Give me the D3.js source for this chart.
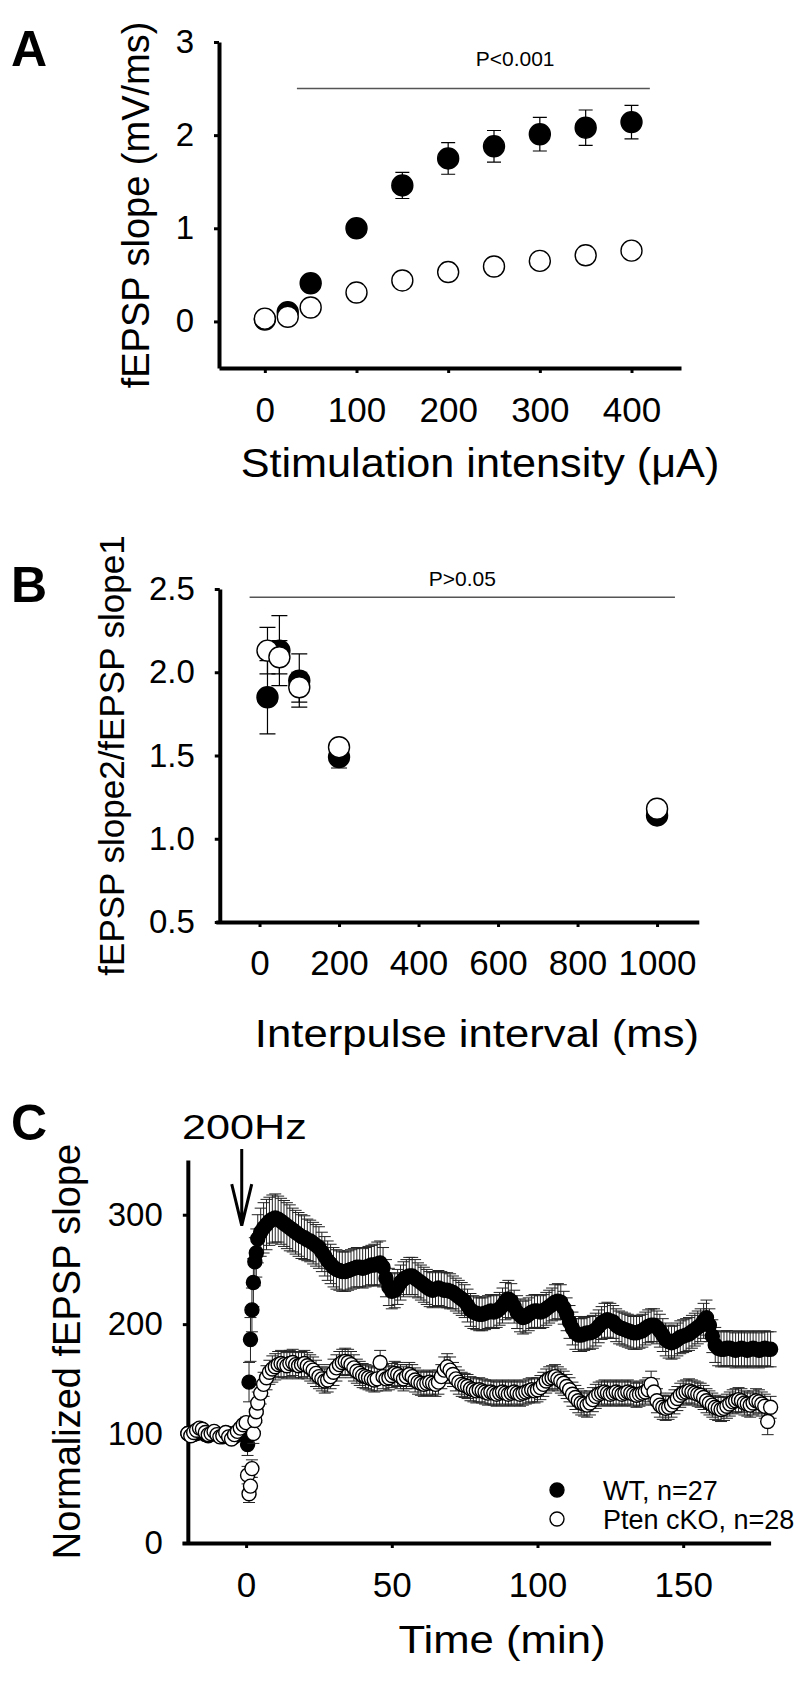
<!DOCTYPE html>
<html>
<head>
<meta charset="utf-8">
<script src="https://cdn.jsdelivr.net/npm/d3@7"></script>
<style>
  body { margin: 0; background: #fff; }
  svg text { font-family: "Liberation Sans", Arial, sans-serif; fill: #000; }
</style>
</head>
<body>
<svg width="800" height="1703"></svg>
<script>
'use strict'

// ---- Panel A: input/output ----
const intensityA = [0, 25, 50, 100, 150, 200, 250, 300, 350, 400];
const wtA     = [0.02, 0.10, 0.41, 1.00, 1.46, 1.75, 1.88, 2.01, 2.08, 2.14];
const wtAErr  = [0.01, 0.03, 0.04, 0.06, 0.14, 0.17, 0.17, 0.18, 0.19, 0.18];
const koA     = [0.03, 0.05, 0.15, 0.31, 0.44, 0.53, 0.59, 0.65, 0.71, 0.76];
const koAErr  = [0.01, 0.01, 0.02, 0.03, 0.04, 0.05, 0.05, 0.05, 0.06, 0.06];
const ticksAx = [0, 100, 200, 300, 400];
const ticksAy = [0, 1, 2, 3];

// ---- Panel B: paired pulse ----
const intervalB = [20, 50, 100, 200, 1000];
const wtB     = [1.85, 2.13, 1.95, 1.49, 1.14];
const wtBErr  = [0.22, 0.21, 0.16, 0.065, 0.03];
const koB     = [2.13, 2.09, 1.91, 1.55, 1.18];
const koBErr  = [0.14, 0.10, 0.09, 0.03, 0.03];
const ticksBx = [0, 200, 400, 600, 800, 1000];
const ticksBy = [0.5, 1.0, 1.5, 2.0, 2.5];

// ---- Panel C: LTP time course ----
const timeC = [
  -20, -19, -18, -17, -16, -15, -14, -13, -12, -11, -10, -9, -8, -7, -6, -5, -4, -3, -2, -1,
  0, 0.5, 1, 1.5, 2, 2.5, 3, 3.5,
  4, 5, 6, 7, 8, 9, 10, 11, 12, 13,
  14, 15, 16, 17, 18, 19, 20, 21, 22, 23,
  24, 25, 26, 27, 28, 29, 30, 31, 32, 33,
  34, 35, 36, 37, 38, 39, 40, 41, 42, 43,
  44, 45, 46, 47, 48, 49, 50, 51, 52, 53,
  54, 55, 56, 57, 58, 59, 60, 61, 62, 63,
  64, 65, 66, 67, 68, 69, 70, 71, 72, 73,
  74, 75, 76, 77, 78, 79, 80, 81, 82, 83,
  84, 85, 86, 87, 88, 89, 90, 91, 92, 93,
  94, 95, 96, 97, 98, 99, 100, 101, 102, 103,
  104, 105, 106, 107, 108, 109, 110, 111, 112, 113,
  114, 115, 116, 117, 118, 119, 120, 121, 122, 123,
  124, 125, 126, 127, 128, 129, 130, 131, 132, 133,
  134, 135, 136, 137, 138, 139, 140, 141, 142, 143,
  144, 145, 146, 147, 148, 149, 150, 151, 152, 153,
  154, 155, 156, 157, 158, 159, 160, 161, 162, 163,
  164, 165, 166, 167, 168, 169, 170, 171, 172, 173,
  174, 175, 176, 177, 178, 179, 180
];
const wtC = [
  100, 101, 99, 100, 102, 101, 99, 98, 100, 101, 99, 98, 97, 99, 100, 98, 97, 99, 101, 100,
  98, 90, 147, 186, 213, 238, 257, 265,
  278, 284, 288, 291, 294, 296, 297, 296, 294, 292,
  290, 288, 286, 284, 282, 280, 279, 277, 276, 274,
  272, 270, 266, 262, 258, 255, 252, 250, 249, 248,
  248, 249, 250, 251, 252, 252, 251, 252, 253, 254,
  254, 255, 256, 252, 242, 234, 230, 231, 234, 238,
  241, 243, 244, 244, 242, 240, 238, 236, 234, 232,
  231, 232, 233, 232, 231, 231, 230, 229, 227, 225,
  223, 221, 217, 213, 211, 210, 209, 209, 210, 211,
  212, 211, 212, 214, 217, 221, 223, 221, 216, 211,
  208, 206, 207, 209, 211, 212, 212, 211, 212, 214,
  216, 218, 220, 221, 220, 215, 209, 202, 196, 192,
  190, 190, 191, 192, 192, 193, 195, 198, 201, 203,
  204, 203, 202, 199, 197, 196, 195, 194, 193, 192,
  192, 193, 194, 196, 198, 199, 199, 197, 194, 190,
  186, 184, 183, 184, 186, 188, 189, 190, 191, 193,
  195, 197, 199, 203, 206, 199, 189, 181, 178, 177,
  177, 178, 178, 177, 176, 177, 178, 177, 176, 177,
  178, 177, 176, 177, 178, 177, 177
];
const wtCErr = [
  4, 4, 4, 4, 4, 4, 4, 4, 4, 4, 4, 4, 4, 4, 4, 4, 4, 4, 4, 4,
  5, 10, 18, 20, 20, 22, 22, 22,
  22, 22, 23, 23, 22, 22, 22, 21, 21, 21,
  21, 21, 20, 20, 20, 20, 20, 19, 19, 19,
  19, 19, 18, 18, 18, 18, 18, 18, 18, 18,
  18, 18, 18, 18, 18, 18, 18, 18, 18, 18,
  19, 20, 20, 18, 17, 17, 16, 16, 16, 16,
  16, 16, 17, 17, 17, 16, 16, 16, 16, 16,
  16, 16, 16, 16, 16, 16, 16, 15, 15, 15,
  15, 15, 15, 15, 15, 15, 15, 15, 15, 15,
  15, 15, 15, 15, 16, 17, 17, 16, 15, 15,
  15, 15, 15, 15, 15, 15, 15, 15, 15, 15,
  15, 15, 16, 16, 16, 15, 15, 15, 15, 15,
  15, 15, 15, 15, 15, 15, 15, 15, 15, 16,
  16, 16, 15, 15, 15, 15, 15, 15, 15, 15,
  15, 15, 15, 15, 15, 15, 15, 15, 15, 15,
  15, 15, 15, 15, 15, 15, 15, 15, 15, 15,
  15, 15, 15, 16, 16, 15, 15, 16, 16, 16,
  16, 16, 16, 16, 16, 16, 16, 16, 16, 16,
  16, 16, 16, 16, 16, 16, 16
];
const koC = [
  100, 98, 101, 103, 105, 104, 101, 99, 100, 102, 99, 97, 98, 101, 97, 95, 99, 102, 105, 108,
  110, 62, 45, 52, 68, 100, 112, 120,
  128, 137, 145, 151, 156, 159, 161, 163, 164, 163,
  162, 164, 165, 163, 162, 163, 164, 162, 160, 158,
  155, 152, 150, 148, 149, 152, 156, 160, 163, 165,
  166, 165, 163, 160, 157, 155, 153, 152, 151, 150,
  149, 150, 165, 152, 150, 151, 153, 155, 154, 152,
  150, 152, 154, 152, 149, 147, 146, 145, 146, 147,
  146, 145, 147, 152, 158, 161, 158, 154, 150, 147,
  145, 144, 143, 141, 140, 139, 140, 139, 138, 137,
  138, 137, 136, 137, 138, 137, 136, 137, 138, 137,
  136, 137, 138, 139, 140, 139, 140, 142, 145, 148,
  150, 151, 152, 150, 148, 146, 143, 140, 136, 133,
  130, 128, 127, 126, 128, 131, 134, 136, 137, 138,
  137, 136, 137, 138, 137, 136, 137, 138, 137, 136,
  135, 136, 137, 138, 140, 145, 138, 130, 126, 124,
  123, 124, 126, 129, 132, 135, 137, 138, 139, 138,
  137, 136, 135, 133, 130, 128, 126, 124, 123, 122,
  123, 125, 127, 129, 130, 131, 130, 128, 127, 126,
  128, 130, 129, 127, 125, 111, 124
];
const koCErr = [
  4, 4, 4, 4, 4, 4, 4, 4, 4, 4, 4, 4, 4, 4, 4, 4, 4, 4, 4, 4,
  5, 8, 8, 8, 8, 9, 10, 10,
  10, 10, 11, 11, 11, 12, 12, 12, 12, 12,
  12, 12, 12, 12, 12, 12, 12, 12, 12, 12,
  12, 11, 11, 11, 11, 11, 12, 12, 12, 12,
  12, 12, 12, 12, 11, 11, 11, 11, 11, 11,
  11, 11, 11, 11, 11, 11, 11, 11, 11, 11,
  11, 11, 11, 11, 11, 11, 11, 11, 11, 11,
  11, 11, 11, 11, 12, 12, 12, 11, 11, 11,
  11, 11, 11, 11, 11, 11, 11, 11, 11, 11,
  11, 11, 11, 11, 11, 11, 11, 11, 11, 11,
  11, 11, 11, 11, 11, 11, 11, 11, 11, 11,
  11, 11, 11, 11, 11, 11, 11, 11, 11, 11,
  11, 11, 11, 11, 11, 11, 11, 11, 11, 11,
  11, 11, 11, 11, 11, 11, 11, 11, 11, 11,
  11, 11, 11, 11, 11, 12, 12, 11, 11, 11,
  11, 11, 11, 11, 11, 11, 11, 11, 11, 11,
  11, 11, 11, 11, 11, 11, 11, 11, 11, 11,
  11, 11, 11, 11, 11, 11, 11, 11, 11, 11,
  11, 11, 11, 11, 11, 12, 10
];
const ticksCx = [0, 50, 100, 150];
const ticksCy = [0, 100, 200, 300];
const legendC = ['WT, n=27', 'Pten cKO, n=28'];

const svg = d3.select('svg');
const FONT = '"Liberation Sans", Arial, sans-serif';

// text helper, sx stretches glyphs horizontally a bit like the original
function txt(g, s, x, y, o = {}) {
  let tr = `translate(${x},${y})`;
  if (o.rot) tr += ` rotate(${o.rot})`;
  if (o.sx) tr += ` scale(${o.sx},1)`;
  return g.append('text')
    .attr('transform', tr)
    .attr('text-anchor', o.anchor || 'start')
    .style('font-size', (o.size || 30) + 'px')
    .style('font-weight', o.bold ? 'bold' : 'normal')
    .text(s);
}

function styleAxis(sel, size) {
  sel.attr('font-family', FONT).attr('font-size', null);
  sel.select('.domain').attr('stroke-width', 4);
  sel.selectAll('.tick line').attr('stroke-width', 3);
  sel.selectAll('.tick text').style('font-size', size + 'px');
}

function pts(xs, vs, es) {
  return xs.map((x, i) => ({ x: x, v: vs[i], e: es[i] }));
}

function errBars(g, data, x, y, cap, color, w) {
  g.append('g').attr('stroke', color).attr('stroke-width', w).attr('fill', 'none')
    .selectAll('path').data(data).join('path')
    .attr('d', d => {
      const cx = x(d.x), y1 = y(d.v + d.e), y2 = y(d.v - d.e);
      return `M${cx},${y1}V${y2}M${cx - cap},${y1}H${cx + cap}M${cx - cap},${y2}H${cx + cap}`;
    });
}

function dots(g, data, x, y, r, filled) {
  g.append('g').selectAll('circle').data(data).join('circle')
    .attr('cx', d => x(d.x))
    .attr('cy', d => y(d.v))
    .attr('r', r)
    .attr('fill', filled ? '#000' : '#fff')
    .attr('stroke', '#000')
    .attr('stroke-width', 1.4);
}

// ================= A =================
{
  const g = svg.append('g');
  const x = d3.scaleLinear().domain([-50, 454]).range([219, 681]);
  const y = d3.scaleLinear().domain([-0.5, 3]).range([368, 42]);

  g.append('g').attr('transform', `translate(0,${y(-0.5)})`)
    .call(d3.axisBottom(x).tickValues(ticksAx).tickSizeInner(5).tickSizeOuter(0).tickPadding(24))
    .call(styleAxis, 35);
  g.append('g').attr('transform', `translate(${x(-50)},0)`)
    .call(d3.axisLeft(y).tickValues(ticksAy).tickFormat(d3.format('d')).tickSizeInner(5).tickSizeOuter(0).tickPadding(20))
    .call(styleAxis, 33);

  const wt = pts(intensityA, wtA, wtAErr);
  const ko = pts(intensityA, koA, koAErr);
  errBars(g, wt, x, y, 7, '#000', 1.2);
  dots(g, wt, x, y, 10.5, true);
  errBars(g, ko, x, y, 7, '#000', 1.2);
  dots(g, ko, x, y, 10.5, false);

  // significance bar
  g.append('line').attr('x1', x(35)).attr('x2', x(420)).attr('y1', y(2.5)).attr('y2', y(2.5))
    .attr('stroke', '#555').attr('stroke-width', 1.5);
  txt(g, 'P<0.001', x(273), y(2.74), { size: 21, anchor: 'middle' });

  txt(g, 'A', 11, 66, { size: 50, bold: true });
  txt(g, 'fEPSP slope (mV/ms)', 149, (y(-0.5) + y(3)) / 2, { size: 38, anchor: 'middle', rot: -90 });
  txt(g, 'Stimulation intensity (\u03bcA)', 480, 477, { size: 40, anchor: 'middle', sx: 1.08 });
}

// ================= B =================
{
  const g = svg.append('g');
  const x = d3.scaleLinear().domain([-110, 1105]).range([215.8, 698.8]);
  const y = d3.scaleLinear().domain([0.5, 2.5]).range([922, 589]);

  g.append('g').attr('transform', `translate(0,${y(0.5)})`)
    .call(d3.axisBottom(x).tickValues(ticksBx).tickFormat(d3.format('d')).tickSizeInner(5).tickSizeOuter(0).tickPadding(23))
    .call(styleAxis, 35);
  g.append('g').attr('transform', `translate(${x(-100)},0)`)
    .call(d3.axisLeft(y).tickValues(ticksBy).tickFormat(d3.format('.1f')).tickSizeInner(5).tickSizeOuter(0).tickPadding(20))
    .call(styleAxis, 33);

  const wt = pts(intervalB, wtB, wtBErr);
  const ko = pts(intervalB, koB, koBErr);
  errBars(g, wt, x, y, 8, '#000', 1.2);
  dots(g, wt, x, y, 10.5, true);
  errBars(g, ko, x, y, 8, '#000', 1.2);
  dots(g, ko, x, y, 10.5, false);

  g.append('line').attr('x1', x(-25)).attr('x2', x(1045)).attr('y1', y(2.45)).attr('y2', y(2.45))
    .attr('stroke', '#555').attr('stroke-width', 1.5);
  txt(g, 'P>0.05', x(510), y(2.52), { size: 21, anchor: 'middle' });

  txt(g, 'B', 11, 602, { size: 50, bold: true });
  txt(g, 'fEPSP slope2/fEPSP slope1', 124, (y(0.5) + y(2.5)) / 2, { size: 35, anchor: 'middle', rot: -90 });
  txt(g, 'Interpulse interval (ms)', 477, 1047, { size: 38, anchor: 'middle', sx: 1.15 });
}

// ================= C =================
{
  const g = svg.append('g');
  const x = d3.scaleLinear().domain([-22, 180]).range([182, 770.6]);
  const y = d3.scaleLinear().domain([0, 350]).range([1543, 1160]);

  g.append('g').attr('transform', `translate(0,${y(0)})`)
    .call(d3.axisBottom(x).tickValues(ticksCx).tickSizeInner(5).tickSizeOuter(0).tickPadding(24))
    .call(styleAxis, 35);
  g.append('g').attr('transform', `translate(${x(-20)},0)`)
    .call(d3.axisLeft(y).tickValues(ticksCy).tickSizeInner(5).tickSizeOuter(0).tickPadding(20))
    .call(styleAxis, 33);

  const wt = pts(timeC, wtC, wtCErr);
  const ko = pts(timeC, koC, koCErr);
  errBars(g, wt, x, y, 6, '#222', 1);
  dots(g, wt, x, y, 7, true);
  errBars(g, ko, x, y, 6, '#222', 1);
  dots(g, ko, x, y, 7, false);

  // tetanus arrow
  const ax = x(-1.5);
  g.append('path')
    .attr('d', `M${ax},${y(360)}V${y(290)}M${ax - 10},${y(328)}L${ax},${y(290)}L${ax + 10},${y(328)}`)
    .attr('fill', 'none').attr('stroke', '#000').attr('stroke-width', 3);
  txt(g, '200Hz', 182, 1139, { size: 36, sx: 1.2 });

  // legend
  const lg = g.append('g');
  lg.selectAll('circle').data(legendC).join('circle')
    .attr('cx', 557).attr('cy', (d, i) => 1490 + i * 29).attr('r', 7)
    .attr('fill', (d, i) => i === 0 ? '#000' : '#fff')
    .attr('stroke', '#000').attr('stroke-width', 1.4);
  legendC.forEach((s, i) => txt(lg, s, 603, 1490 + i * 29 + 9.5, { size: 27 }));

  txt(g, 'C', 11, 1140, { size: 50, bold: true });
  txt(g, 'Normalized fEPSP slope', 80, (y(0) + y(350)) / 2, { size: 38, anchor: 'middle', rot: -90 });
  txt(g, 'Time (min)', 502, 1653, { size: 38, anchor: 'middle', sx: 1.15 });
}
</script>
</body>
</html>
